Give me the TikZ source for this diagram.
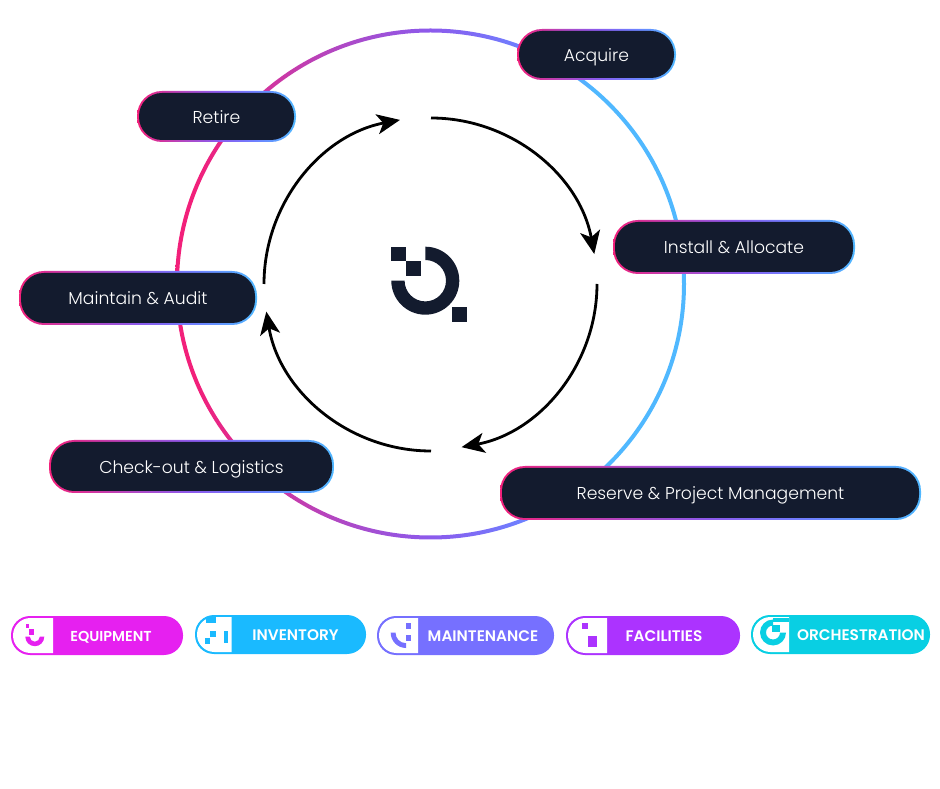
\documentclass[tikz,border=0pt]{standalone}
\usepackage{fontspec}
\usetikzlibrary{arrows.meta}
\setmainfont{Poppins}[UprightFont=* Light,BoldFont=* SemiBold]
\definecolor{navy}{HTML}{131B2E}
\definecolor{rpink}{HTML}{F2207A}
\definecolor{rpurple}{HTML}{8C5AEC}
\definecolor{rblue}{HTML}{6E80FF}
\definecolor{rsky}{HTML}{50B8FF}
\definecolor{rmid}{HTML}{B048C4}
\definecolor{cequip}{HTML}{E620F0}
\definecolor{cinv}{HTML}{1ABAFF}
\definecolor{cmaint}{HTML}{7670FF}
\definecolor{cfac}{HTML}{AC33FF}
\definecolor{corch}{HTML}{09CFE3}
\pgfdeclarehorizontalshading{ringshade}{100bp}{color(0bp)=(rpink);color(27bp)=(rpink);color(41bp)=(rmid);color(50bp)=(rpurple);color(59bp)=(rblue);color(66bp)=(rsky);color(100bp)=(rsky)}
\pgfdeclarehorizontalshading{pillshade}{100bp}{color(0bp)=(rpink);color(25bp)=(rpink);color(40bp)=(rmid);color(50bp)=(rpurple);color(62bp)=(rblue);color(75bp)=(rsky);color(100bp)=(rsky)}
\tikzset{
  pillouter/.style={rectangle,shading=pillshade,rounded corners=25pt,inner sep=0pt},
  pillinner/.style={rectangle,fill=navy,rounded corners=23pt,inner sep=0pt,text=white,text height=14pt,text depth=0pt,font=\fontsize{17.2}{20}\selectfont},
  badgebody/.style={rectangle,rounded corners=19pt,inner sep=0pt},
  badgetext/.style={text=white,inner sep=0pt,text height=11pt,text depth=0pt,font=\bfseries\fontsize{15.3}{17}\selectfont},
  cyclearrow/.style={line width=2.8pt,-{Stealth[length=23pt,width=20pt,inset=6pt]}}
}
% name x1 y1 x2 y2 text (pixel box, y down)
\newcommand\pill[6]{%
  \node[pillouter,minimum width={#4-#2},minimum height={#5-#3}] (#1o) at ({(#2+#4)/2},{788-(#3+#5)/2}) {};
  \node[pillinner,minimum width={#4-#2-4},minimum height={#5-#3-4}] (#1) at (#1o.center) {#6};
}
% name colour x1 y1 x2 y2 xsplit textcentre text
\newcommand\badge[9]{%
  \node[badgebody,fill=#2,minimum width={#5-#3},minimum height={#6-#4}] (#1) at ({(#3+#5)/2},{788-(#4+#6)/2}) {};
  \fill[white] (#7,{788-#4-2}) -- ({#3+2+17.5},{788-#4-2}) arc[start angle=90,end angle=270,radius=17.5] -- (#7,{788-#6+2}) -- cycle;
  \node[badgetext] (#1t) at (#8,{788-(#4+#6)/2}) {#9};
}
\newcommand\sq[5]{\fill[#1] (#2,{788-#3}) rectangle (#4,{788-#5});}
\newcommand\annul[7]{\fill[#1,shift={(#2,{788-#3})}] (#6:#4) arc[start angle=#6,end angle=#7,radius=#4] -- (#7:#5) arc[start angle=#7,end angle=#6,radius=#5] -- cycle;}
\begin{document}
\begin{tikzpicture}[x=1pt,y=1pt]
\useasboundingbox (0,0) rectangle (940,788);
% ring
\path[shading=ringshade,even odd rule] (430.5,504) circle[radius=255.5] (430.5,504) circle[radius=251.5];
% cycle arrows
\coordinate (cc) at (431,504);
\coordinate (s1) at ([shift={(90:166)}]cc);
\coordinate (s2) at ([shift={(0:166)}]cc);
\coordinate (s3) at ([shift={(270:167)}]cc);
\coordinate (s4) at ([shift={(180:167)}]cc);
\draw[cyclearrow] (s1) arc[start angle=90,end angle=10.4,radius=166];
\draw[cyclearrow] (s2) arc[start angle=0,end angle=-79.4,radius=166];
\draw[cyclearrow] (s3) arc[start angle=270,end angle=189.5,radius=167];
\draw[cyclearrow] (s4) arc[start angle=180,end angle=100.7,radius=167];
% logo
\sq{navy}{391.3}{246.7}{406}{261.3}
\sq{navy}{406}{261.3}{420.7}{276}
\sq{navy}{452}{307.3}{466.7}{322}
\annul{navy}{425.3}{280.7}{34}{20.7}{90}{-180}
% stage pills
\pill{acq}{517}{29}{676}{80}{Acquire}
\pill{ret}{137}{91}{296}{142}{Retire}
\pill{ins}{613}{220}{855}{274}{Install \& Allocate}
\pill{mai}{19}{271}{257}{325}{Maintain \& Audit}
\pill{chk}{49}{440}{334}{493}{Check-out \& Logistics}
\pill{res}{500}{466}{921}{520}{Reserve \& Project Management}
% badges
\badge{bequip}{cequip}{11}{616}{183}{655}{53}{111}{\fontsize{14.4}{17}\selectfont EQUIPMENT}
\sq{cequip}{26}{624}{29.3}{628}
\sq{cequip}{29.3}{629.3}{34}{634.7}
\annul{cequip}{34.8}{636.7}{9.5}{5}{180}{360}
\badge{binv}{cinv}{195}{615}{366}{654}{231.5}{295.5}{INVENTORY}
\sq{cinv}{206}{616.7}{216}{622.7}
\sq{cinv}{210}{630.7}{216}{636.7}
\sq{cinv}{205}{637.7}{210}{644}
\sq{cinv}{224}{630.7}{228}{642.7}
\badge{bmaint}{cmaint}{377}{616}{554}{655}{418}{483}{MAINTENANCE}
\sq{cmaint}{406}{622.7}{410.7}{628.7}
\sq{cmaint}{406}{634.7}{410.7}{640.7}
\annul{cmaint}{406}{632.7}{15.3}{10.5}{180}{270}
\badge{bfac}{cfac}{566}{616}{740}{655}{607}{664}{FACILITIES}
\sq{cfac}{582}{623.3}{588}{628.7}
\sq{cfac}{588}{636}{597}{646.7}
\badge{borch}{corch}{751}{615}{930}{654}{789}{861}{ORCHESTRATION}
\annul{corch}{773}{632.5}{13}{7}{0}{-270}
\sq{corch}{773}{618}{789}{622}
\sq{corch}{772}{625}{779.5}{632.3}
\end{tikzpicture}
\end{document}
